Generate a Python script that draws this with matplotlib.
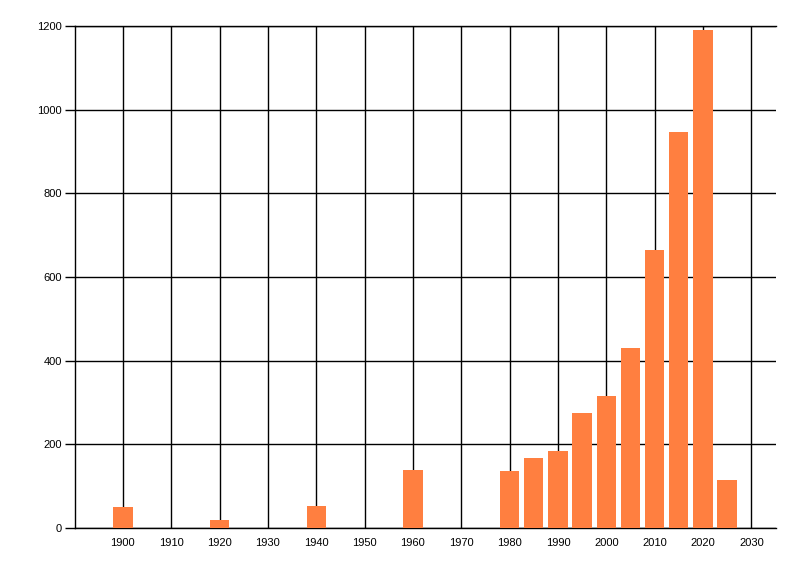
import matplotlib.pyplot as plt

# bar data
years = [1900, 1920, 1940, 1960, 1980, 1985, 1990, 1995, 2000, 2005, 2010, 2015, 2020, 2025]
counts = [50, 19, 53, 139, 136, 167, 184, 275, 316, 430, 665, 947, 1191, 115]
xticks = list(range(1900, 2031, 10))
yticks = list(range(0, 1201, 200))

plt.rcParams['font.family'] = ['Liberation Sans', 'DejaVu Sans']
plt.rcParams['font.size'] = 8

fig = plt.figure(figsize=(8, 5.76), dpi=100)
ax = fig.add_axes([74.5 / 800, 1 - 528 / 576, (775.5 - 74.5) / 800, (528 - 26) / 576])

ax.bar(years, counts, width=4, color='#FF7F40', zorder=3)

ax.set_xlim(1890, 2035)
ax.set_ylim(0, 1200)
ax.set_xticks(xticks)
ax.set_yticks(yticks)
ax.grid(True, color='black', linewidth=1.0)
ax.set_axisbelow(True)

ax.tick_params(axis='x', length=0, pad=7, colors='black')
ax.tick_params(axis='y', length=7, width=1.0, pad=2, colors='black')

ax.spines['right'].set_visible(False)
for s in ['left', 'bottom', 'top']:
    ax.spines[s].set_color('black')
    ax.spines[s].set_linewidth(1.0)

fig.savefig('out.png', dpi=100)
